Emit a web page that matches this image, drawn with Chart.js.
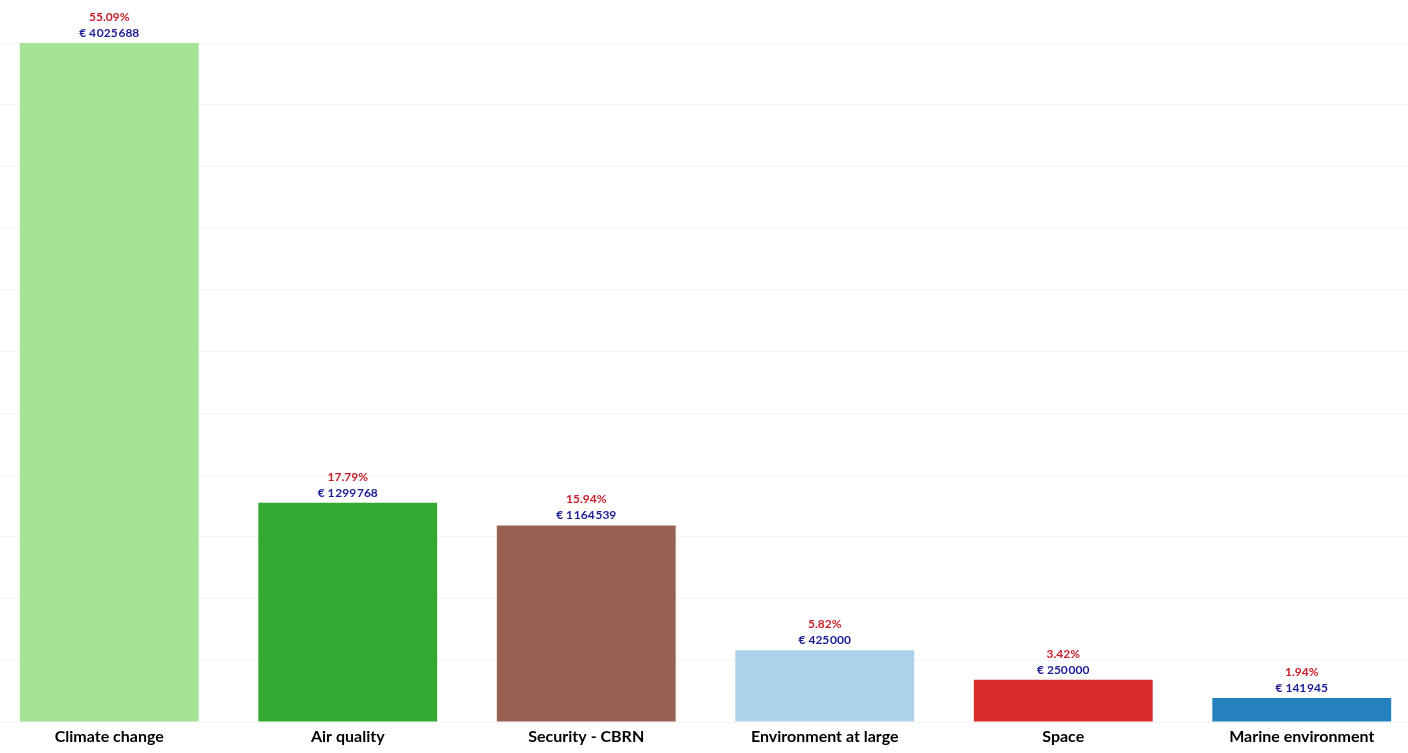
<!DOCTYPE html>
<html>
<head>
<meta charset="utf-8">
<script src="https://cdn.jsdelivr.net/npm/chart.js@4"></script>
<style>
    html, body { margin: 0; padding: 0; background: #ffffff; overflow: hidden; }
    .plot { position: absolute; left: -10px; top: 0; width: 1431px; height: 753px; }
</style>
</head>
<body>
<div class="plot"><canvas id="myChart"></canvas></div>
<script>
var categories = ["Climate change", "Air quality", "Security - CBRN", "Environment at large", "Space", "Marine environment"];
var amounts = [4025688, 1299768, 1164539, 425000, 250000, 141945];
var shares = [55.09, 17.79, 15.94, 5.82, 3.42, 1.94];
var barColors = ["#a6e397", "#33a833", "#976154", "#aed1eb", "#da2c2e", "#2481bd"];

var formatEuro = (value) => {
    // thousands grouped with a very narrow space, like the source
    let s = String(value);
    let out = "";
    while (s.length > 3) {
        out = "\u200A" + s.slice(-3) + out;
        s = s.slice(0, -3);
    }
    return "€ " + s + out;
}

var barLabels = {
    id: "barLabels",
    afterDatasetsDraw: (chart) => {
        const ctx = chart.ctx;
        const meta = chart.getDatasetMeta(0);
        ctx.save();
        ctx.textAlign = "center";
        ctx.textBaseline = "middle";
        ctx.font = "bold 12px Lato";
        meta.data.forEach((bar, i) => {
            ctx.fillStyle = "#c8202a";
            ctx.fillText(shares[i].toFixed(2) + "%", bar.x, bar.y - 26);
            ctx.fillStyle = "#1c1c96";
            ctx.fillText(formatEuro(amounts[i]), bar.x, bar.y - 10);
        });
        ctx.restore();
    }
}

window.onload = () => {
    const ctx = document.getElementById("myChart").getContext("2d");
    new Chart(ctx, {
        type: "bar",
        data: {
            labels: categories,
            datasets: [{
                data: amounts,
                backgroundColor: barColors,
                borderWidth: 0,
                barPercentage: 0.75,
                categoryPercentage: 1.0
            }]
        },
        options: {
            responsive: true,
            maintainAspectRatio: false,
            animation: false,
            layout: { padding: { top: 43, bottom: 0, left: 0, right: 0 } },
            plugins: {
                legend: { display: false },
                tooltip: { enabled: false }
            },
            scales: {
                x: {
                    grid: { display: false },
                    border: { display: false },
                    ticks: {
                        color: "#000000",
                        padding: -3,
                        font: { family: "Lato", weight: "bold", size: 16 }
                    },
                    afterFit: (scale) => { scale.height = 31; }
                },
                y: {
                    min: 0,
                    max: Math.max(...amounts),
                    grid: { color: "#f4f4f4", drawTicks: false },
                    border: { display: false },
                    ticks: { display: false, count: 12 },
                    afterFit: (scale) => { scale.width = 0; }
                }
            }
        },
        plugins: [barLabels]
    });
}
</script>
</body>
</html>
